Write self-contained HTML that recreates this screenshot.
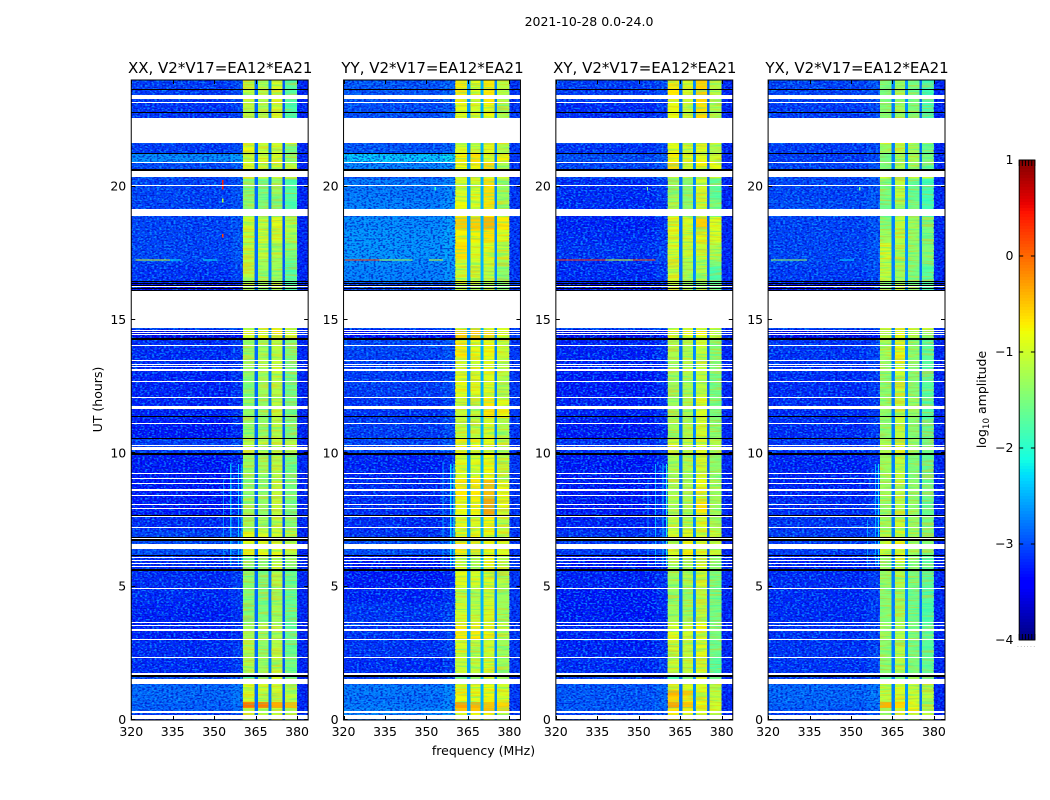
<!DOCTYPE html>
<html>
<head>
<meta charset="utf-8">
<title>2021-10-28 amplitude waterfall</title>
<style>
html,body{margin:0;padding:0;background:#fff;width:1050px;height:800px;overflow:hidden}
svg{display:block}
text{font-family:"DejaVu Sans","Liberation Sans",sans-serif;fill:#000}
</style>
</head>
<body>
<svg id="figure" xmlns="http://www.w3.org/2000/svg" width="1050" height="800" viewBox="0 0 1050 800">
  <defs>
    <filter id="speckle-light" x="0" y="0" width="100%" height="100%" color-interpolation-filters="sRGB"><feTurbulence type="fractalNoise" baseFrequency="0.42 0.62" numOctaves="1" seed="3"/><feColorMatrix values="0 0 0 0 .05 0 0 0 0 .62 0 0 0 0 1 5.5 0 0 0 -2.6"/></filter>
    <filter id="speckle-dark" x="0" y="0" width="100%" height="100%" color-interpolation-filters="sRGB"><feTurbulence type="fractalNoise" baseFrequency="0.42 0.62" numOctaves="1" seed="11"/><feColorMatrix values="0 0 0 0 0 0 0 0 0 0 0 0 0 0 .72 5.5 0 0 0 -2.6"/></filter>
    <filter id="streak-cool" x="0" y="0" width="100%" height="100%" color-interpolation-filters="sRGB"><feTurbulence type="fractalNoise" baseFrequency="0.035 0.55" numOctaves="2" seed="5"/><feColorMatrix values="0 0 0 0 .1 0 0 0 0 .95 0 0 0 0 .75 5 0 0 0 -2.4"/></filter>
    <filter id="streak-warm" x="0" y="0" width="100%" height="100%" color-interpolation-filters="sRGB"><feTurbulence type="fractalNoise" baseFrequency="0.035 0.55" numOctaves="2" seed="17"/><feColorMatrix values="0 0 0 0 1 0 0 0 0 .72 0 0 0 0 0 5 0 0 0 -2.4"/></filter>
  </defs>
  <text x="589" y="26" font-size="12.5" text-anchor="middle">2021-10-28 0.0-24.0</text>
  <text x="483.5" y="755" font-size="12.5" text-anchor="middle">frequency (MHz)</text>
  <text transform="translate(102,399.5) rotate(-90)" font-size="12.5" text-anchor="middle">UT (hours)</text>
  <g id="panels"></g>
  <g id="colorbar"></g>
  <text transform="translate(986,399.5) rotate(-90)" font-size="12.5" text-anchor="middle">log<tspan font-size="8.75" dy="3">10</tspan><tspan dy="-3"> amplitude</tspan></text>
  <text x="1017" y="647" font-size="6" letter-spacing="1.35" style="fill:#888">......</text>
</svg>
<script>
// ---------- Chart data (all in data units: hours, MHz, log10 amplitude) ----------
const panelTitles = ["XX, V2*V17=EA12*EA21", "YY, V2*V17=EA12*EA21", "XY, V2*V17=EA12*EA21", "YX, V2*V17=EA12*EA21"];
const freqTicks = [320, 335, 350, 365, 380];
const timeTicks = [0, 5, 10, 15, 20];
const colorbarTicks = [-4, -3, -2, -1, 0, 1];

// Time segment boundaries (UT hours)
const rowEdges = [0,.32,.45,.68,.92,1.1,1.33,1.52,1.71,2.4,3.0,3.65,4.4,5.0,5.6,6.15,6.73,7.1,7.67,8.3,9.0,9.95,10.55,11.3,12.1,13.0,13.6,14.3,14.65,16.05,16.4,17.0,17.2,17.27,17.9,18.4,18.87,19.5,20.3,20.55,20.9,21.23,21.6,22.55,23.2,24.0];

// Frequency bin boundaries (MHz) and what each bin reads from
const channelEdges = [320,340,356,360.4,364.6,365.9,369.6,370.7,374.7,375.6,380,384];
const channelSource = ["bg","bg","bg","b1","dip","b2","dip","b3","dip","b4","edge"];
const channelOffset = [0,-.02,.08,0,0,0,.1,0,-.1,0,0];

// Background level per time segment
const xxBackground = [-3.1,-2.9,-2.9,-2.85,-2.85,-2.85,-3,-3.0,-3.2,-3.2,-3.25,-3.25,-3.2,-3.2,-3.2,-3.0,-3.05,-3.2,-3.3,-3.3,-3.3,-3.1,-3.3,-3.25,-3.25,-3.2,-3.2,-3.55,-3,-3.4,-3.15,-3.1,-3.0,-3.05,-3.05,-3.05,-3.05,-3.05,-3,-3.0,-2.65,-3.1,-3,-3.15,-3.1];
const yyBackground = [-2.7,-2.7,-2.75,-2.8,-2.75,-2.75,-3,-3.1,-3.2,-3.15,-3.15,-3.15,-3.25,-3.3,-3.3,-3.0,-3.15,-3.2,-3.2,-3.2,-3.25,-3.05,-3.1,-3.15,-3.1,-3.1,-3.05,-3.4,-3,-3.1,-2.7,-2.65,-2.65,-2.6,-2.6,-2.65,-2.7,-2.75,-3,-2.7,-2.3,-2.95,-3,-3.0,-2.95];
const xyBackground = [-3.1,-2.95,-2.95,-2.95,-2.95,-2.95,-3,-3.1,-3.2,-3.25,-3.25,-3.3,-3.3,-3.25,-3.3,-3.1,-3.15,-3.25,-3.3,-3.3,-3.3,-3.15,-3.3,-3.25,-3.3,-3.25,-3.25,-3.55,-3,-3.4,-3.2,-3.2,-3.1,-3.15,-3.2,-3.25,-3.2,-3.2,-3,-3.05,-3.0,-3.15,-3,-3.2,-3.1];
const yxBackground = [-3.1,-2.95,-2.9,-2.85,-2.85,-2.85,-3,-3.1,-3.15,-3.15,-3.15,-3.2,-3.2,-3.2,-3.25,-3.1,-3.1,-3.15,-3.2,-3.25,-3.25,-3.15,-3.2,-3.2,-3.2,-3.15,-3.15,-3.55,-3,-3.4,-3.1,-3.05,-3.0,-3.05,-3.05,-3.05,-3.0,-3.05,-3,-3.05,-3.1,-3.1,-3,-3.1,-3.05];

// Sub-band levels per time segment
const xxBand1 = [-1.0,-1.0,-.05,-1.0,-1.0,-.9,-1,-1.9,-1.2,-1.2,-1.25,-1.45,-1.45,-1.4,-1.4,-.85,-.9,-1.3,-1.3,-1.35,-1.3,-1.1,-1.35,-1.35,-1.4,-1.35,-1.3,-.9,-1,-1.1,-1.15,-1.1,-1.1,-1.1,-1.1,-1.0,-1.35,-1.45,-1,-.95,-1.0,-.85,-1,-1.15,-1.05];
const xxBand2 = [-1.1,-1.1,-.1,-1.1,-1.1,-1.0,-1,-1.5,-1.3,-1.35,-1.3,-1.5,-1.5,-1.5,-1.4,-.85,-.9,-1.25,-1.35,-1.35,-1.3,-1.1,-1.35,-1.35,-1.3,-1.2,-1.25,-.85,-1,-1.3,-1.3,-1.25,-1.3,-1.1,-1.0,-1.1,-1.5,-1.55,-1,-1.0,-1.0,-1.05,-1,-1.2,-1.2];
const xxBand3 = [-1,-1,-.35,-1.1,-1,-1,-1,-1,-1.1,-1.15,-1.2,-1.25,-1.3,-1.2,-1.1,-.9,-.95,-1.1,-1.1,-1.1,-1.15,-1,-1.15,-1.1,-1.15,-1.05,-1.1,-.7,-1,-1.2,-1.3,-1.25,-1.3,-1.2,-1.0,-.9,-1.5,-1.35,-1,-.95,-.95,-1.0,-1,-1.0,-.95];
const xxBand4 = [-1.2,-1.2,-.45,-1.1,-1.15,-1.2,-1,-1.65,-1.55,-1.6,-1.7,-1.65,-1.65,-1.6,-1.4,-1.1,-1.15,-1.45,-1.5,-1.5,-1.55,-1.2,-1.55,-1.55,-1.6,-1.55,-1.5,-1.0,-1,-1.7,-1.75,-1.7,-1.6,-1.45,-1.2,-1.15,-1.8,-1.75,-1,-1.15,-1.4,-1.55,-1,-1.8,-1.75];

const yyBand1 = [-.9,-.5,-.3,-.8,-.7,-.9,-1,-1.7,-1.05,-.95,-.7,-1.0,-1.1,-.85,-1.0,-.7,-.85,-.9,-.8,-.7,-.9,-.75,-1.05,-1.05,-.85,-1.0,-.7,-.5,-1,-1.1,-1.05,-.95,-1,-.65,-.75,-.55,-.8,-.95,-1,-.8,-.75,-.95,-1,-.85,-.7];
const yyBand2 = [-.85,-.5,-.4,-.9,-.85,-.9,-1,-1.3,-1.1,-1.1,-.7,-1.1,-1.2,-.95,-1.1,-.7,-.85,-.95,-.75,-.7,-.9,-.8,-1.1,-1.1,-.9,-.95,-.85,-.5,-1,-1.2,-1.05,-1,-1,-.95,-.75,-.55,-.95,-.9,-1,-.75,-.65,-1.05,-1,-.95,-.85];
const yyBand3 = [-.8,-.45,-.5,-.75,-.8,-.8,-1,-.9,-.95,-1,-.75,-.95,-1,-.95,-.9,-.8,-.8,-.75,-.3,-.45,-.8,-.85,-.95,-.7,-.9,-.85,-.8,-.6,-1,-1.2,-1.1,-1,-1,-.9,-.65,-.4,-.7,-.65,-1,-.6,-.9,-.9,-1,-.8,-.7];
const yyBand4 = [-1.0,-.6,-.6,-.95,-.95,-1,-1,-1.2,-1.25,-1.3,-1.1,-1.3,-1.3,-1.15,-1.15,-.95,-1,-1.1,-.85,-.8,-1.1,-1.1,-1.2,-.85,-1.15,-1.1,-1.05,-.8,-1,-1.5,-1.4,-1.3,-1.3,-1.05,-.9,-.7,-1.2,-1.3,-1,-1.2,-.75,-1.2,-1,-1.25,-1.15];

const xyBand1 = [-.7,-.7,-.3,-.6,-.4,-.9,-1,-1.8,-1.05,-1.0,-.9,-1.3,-1.3,-1.3,-1.2,-.9,-1,-1.1,-1.2,-1.2,-1.2,-1,-1.25,-1.3,-1.3,-1.3,-1.2,-.9,-1,-1.1,-1.0,-1,-1.0,-1.0,-.95,-.9,-1.2,-1.35,-1,-.6,-.75,-.85,-1,-.85,-.7];
const xyBand2 = [-.85,-.75,-.5,-.7,-.5,-.95,-1,-1.5,-1.1,-1.1,-1.0,-1.3,-1.35,-1.2,-1.2,-.75,-.9,-1.2,-1.2,-1.25,-1.2,-1.1,-1.2,-1.25,-1.25,-1.15,-1.2,-.85,-1,-1.3,-1.25,-1.2,-1.2,-1.05,-1,-.95,-1.4,-1.45,-1,-1,-.9,-1,-1,-1.05,-.95];
const xyBand3 = [-.95,-.95,-.8,-.85,-.85,-.95,-1,-.95,-1.0,-.9,-.85,-1.1,-1.15,-1.0,-1.0,-.95,-1,-.95,-.7,-.85,-1,-.95,-1,-.95,-1.1,-1.05,-1.05,-.8,-1,-1.3,-1.2,-1.2,-1.2,-1.05,-.85,-.55,-1.05,-1.0,-1,-.8,-.85,-.9,-1,-.65,-.6];
const xyBand4 = [-1.1,-1.0,-1.0,-1.05,-1.1,-1.15,-1,-1.6,-1.7,-1.6,-1.5,-1.55,-1.55,-1.5,-1.4,-1.05,-1.05,-1.25,-1.3,-1.3,-1.4,-1.2,-1.4,-1.5,-1.55,-1.45,-1.45,-1.05,-1,-1.6,-1.8,-1.5,-1.4,-1.2,-.95,-.9,-1.5,-1.7,-1,-.85,-1,-1.2,-1,-1.2,-1.15];

const yxBand1 = [-1.3,-1.3,-.4,-1.1,-1.1,-1.15,-1,-1.8,-1.4,-1.4,-1.3,-1.45,-1.45,-1.35,-1.35,-1.05,-1.15,-1.3,-1.35,-1.3,-1.3,-1.2,-1.4,-1.35,-1.4,-1.35,-1.25,-1.1,-1,-1.45,-1.1,-1.15,-1.2,-1.0,-1.3,-1.45,-1.6,-1.5,-1,-1.5,-1.55,-1.35,-1,-1.45,-1.5];
const yxBand2 = [-1,-1,-.6,-.95,-.95,-.95,-1,-1.5,-1.15,-1.15,-1.15,-1.3,-1.3,-1.2,-1.0,-.85,-.95,-1.05,-1.15,-1.1,-1.1,-.95,-1.1,-1.1,-1.05,-.9,-.9,-.85,-1,-1.15,-1.3,-1.25,-1.2,-1.2,-1.15,-1.1,-1.25,-1.1,-1,-1.15,-1.3,-1.2,-1,-1.3,-1.25];
const yxBand3 = [-1.1,-.7,-.9,-1.0,-1.05,-1.1,-1,-1.3,-1.5,-1.55,-1.5,-1.6,-1.6,-1.5,-1.45,-1.3,-1.3,-1.35,-1.35,-1.4,-1.5,-1.35,-1.45,-1.35,-1.45,-1.45,-1.4,-1.2,-1,-1.5,-1.5,-1.5,-1.5,-1.4,-1.35,-1.3,-1.55,-1.65,-1,-1.35,-1.25,-1.3,-1,-1.5,-1.55];
const yxBand4 = [-1.1,-1.1,-1.2,-1.1,-1.15,-1.15,-1,-1.65,-1.65,-1.7,-1.65,-1.75,-1.75,-1.7,-1.7,-1.45,-1.5,-1.55,-1.6,-1.6,-1.65,-1.55,-1.65,-1.75,-1.7,-1.7,-1.7,-1.4,-1,-1.75,-1.7,-1.65,-1.6,-1.45,-1.5,-1.5,-1.85,-1.85,-1,-1.65,-1.5,-1.55,-1,-1.85,-1.85];

// Levels of the notches between sub-bands and of the band above 380 MHz
const dipLevels = [-2.85, -2.6, -2.8, -2.75];
const edgeLevels = [-3.2, -3.1, -3.2, -3.2];

// Flagged (no data) and dropout times, hours
const thinGapTimes = [2.35,3.03,3.375,3.54,3.66,4.94,5.75,5.86,5.99,6.10,6.81,7.23,7.62,7.92,8.09,8.43,8.88,9.05,9.25,10.30,11.13,12.10,12.70,13.10,13.16,13.24,13.34,13.47,14.05,14.44,14.52,14.59,16.26,20.05,20.91,23.16];
const wideGapStarts = [.04,.26,1.35,1.69,6.41,8.59,10.14,11.67,14.69,18.91,20.37,21.64,23.29];
const wideGapEnds   = [.19,.34,1.54,1.76,6.60,8.66,10.22,11.76,16.08,19.16,20.59,22.59,23.44];
const thinDropTimes = [1.65,6.16,6.86,7.68,11.39,16.10,16.19,16.31,16.38,16.44,21.25,22.79,23.65];
const wideDropStarts = [5.59,6.71,9.94,10.52,14.26,20.59];
const wideDropEnds   = [5.66,6.79,10.01,10.58,14.33,20.66];

// Interference features: panel, start MHz, end MHz, start h, end h, level
const rfiPanels = [0,0,0,0,0, 1,1,1, 2,2,2, 3,3, 0,0,0,0, 1,1,1, 2,2,2,2, 3,3,3, 0,1,2,3];
const rfiFreqStart = [321.5,334,346,352.9,352.9, 320.5,333,351, 320,338,348, 321,346, 353.2,355.8,358.6,359.8, 355.8,358.6,359.8, 353.2,355.8,358.6,359.8, 355.8,358.6,359.8, 352.9,352.9,352.9,352.9];
const rfiFreqEnd   = [334,338,351,353.4,353.4, 333,345,356, 338,348,356, 334,351, 353.6,356.2,359,360.2, 356.2,359,360.2, 353.6,356.2,359,360.2, 356.2,359,360.2, 353.4,353.4,353.4,353.4];
const rfiTimeStart = [17.23,17.23,17.23,19.9,18.1, 17.23,17.23,17.23, 17.23,17.23,17.23, 17.23,17.23, 5.8,5.8,5.8,5.8, 5.8,5.8,5.8, 5.8,5.8,5.8,5.8, 5.8,5.8,5.8, 19.4,19.85,19.85,19.85];
const rfiTimeEnd   = [17.27,17.27,17.27,20.25,18.22, 17.27,17.27,17.27, 17.27,17.27,17.27, 17.27,17.27, 9.0,9.6,9.6,9.6, 9.6,9.6,9.6, 9.0,9.6,9.6,9.6, 7.5,9.6,9.6, 19.55,19.98,19.98,19.98];
const rfiLevels    = [-1,-2.2,-2.2,.4,.2, .25,-1.2,-1, .3,-.9,.1, -1.3,-2.3, -2.7,-2.5,-2.4,-2.3, -2.6,-2.3,-2.1, -2.7,-2.5,-2.4,-2.2, -2.6,-2.5,-2.3, -1.2,-2.0,-1.4,-1.6];

// ---------- Axis functions ----------
const NS = "http://www.w3.org/2000/svg";
const panelLeft = [131.25, 343.55, 555.85, 768.1];
const panelWidth = 176.9;
const axisTop = 80, axisBottom = 720;
const freqMin = 320, freqMax = 384, timeMax = 24, ampMin = -4, ampMax = 1;
const thinHours = .0385;
function xScale(panel, f){ return panelLeft[panel] + (f - freqMin) / (freqMax - freqMin) * panelWidth; }
function yScale(h){ return axisBottom - h / timeMax * (axisBottom - axisTop); }
const cbLeft = 1019.2, cbWidth = 15.7, cbTop = 160, cbBottom = 640;
function cbScale(v){ return cbBottom - (v - ampMin) / (ampMax - ampMin) * (cbBottom - cbTop); }

function ramp(t, pts){
  for (let i = 1; i < pts.length; i++) {
    if (t <= pts[i][0]) {
      const a = pts[i-1], b = pts[i];
      return a[1] + (b[1] - a[1]) * (t - a[0]) / (b[0] - a[0]);
    }
  }
  return pts[pts.length-1][1];
}
function jet(v){
  const t = Math.max(0, Math.min(1, (v - ampMin) / (ampMax - ampMin)));
  const r = ramp(t, [[0,0],[.35,0],[.66,1],[.89,1],[1,.5]]);
  const g = ramp(t, [[0,0],[.125,0],[.375,1],[.64,1],[.91,0],[1,0]]);
  const b = ramp(t, [[0,.5],[.11,1],[.34,1],[.65,0],[1,0]]);
  return "rgb(" + Math.round(r*255) + "," + Math.round(g*255) + "," + Math.round(b*255) + ")";
}

function make(parent, tag, attrs){
  const el = document.createElementNS(NS, tag);
  for (const k in attrs) el.setAttribute(k, attrs[k]);
  parent.appendChild(el);
  return el;
}

const panelBackgrounds = [xxBackground, yyBackground, xyBackground, yxBackground];
const panelBand1 = [xxBand1, yyBand1, xyBand1, yxBand1];
const panelBand2 = [xxBand2, yyBand2, xyBand2, yxBand2];
const panelBand3 = [xxBand3, yyBand3, xyBand3, yxBand3];
const panelBand4 = [xxBand4, yyBand4, xyBand4, yxBand4];

function levelFor(p, c, r){
  const src = channelSource[c];
  if (src === "bg") return panelBackgrounds[p][r] + channelOffset[c];
  if (src === "b1") return panelBand1[p][r];
  if (src === "b2") return panelBand2[p][r];
  if (src === "b3") return panelBand3[p][r];
  if (src === "b4") return panelBand4[p][r];
  if (src === "dip") return dipLevels[p] + channelOffset[c];
  return edgeLevels[p];
}

const panelsRoot = document.getElementById("panels");
panelTitles.forEach(function(title, p){
  const g = make(panelsRoot, "g", {});
  
  

  // heatmap cells
  const cells = make(g, "g", {"shape-rendering":"crispEdges"});
  
  
  for (let r = 0; r < rowEdges.length - 1; r++) {
    for (let c = 0; c < channelEdges.length - 1; c++) {
      const x0 = xScale(p, channelEdges[c]), x1 = xScale(p, channelEdges[c+1]);
      const y0 = yScale(rowEdges[r+1]), y1 = yScale(rowEdges[r]);
      const cell = make(cells, "rect", {x:x0, y:y0, width:x1-x0, height:y1-y0, fill:jet(levelFor(p,c,r))});
      
      
    }
  }

  // fine texture, kept inside each frequency region
  const texture = make(g, "g", {});
  
  
  const plotHeight = axisBottom - axisTop;
  function textureLayer(filterId, f0, f1, alpha){
    const x0 = xScale(p, f0), x1 = xScale(p, f1);
    const layer = make(texture, "rect", {x:x0, y:axisTop, width:x1-x0, height:plotHeight, filter:"url(#"+filterId+")", opacity:alpha});
    
    
  }
  channelSource.forEach(function(src, c){
    const f0 = channelEdges[c], f1 = channelEdges[c+1];
    if (src.charAt(0) === "b" && src !== "bg") {
      textureLayer("streak-cool", f0, f1, .35);
      textureLayer("streak-warm", f0, f1, .4);
    }
  });
  textureLayer("speckle-light", freqMin, channelEdges[3], .75);
  textureLayer("speckle-dark", freqMin, channelEdges[3], .6);
  textureLayer("speckle-light", channelEdges[10], freqMax, .45);
  textureLayer("speckle-dark", channelEdges[10], freqMax, .7);

  // interference features
  rfiPanels.forEach(function(rp, i){
    if (rp !== p) return;
    const x0 = xScale(p, rfiFreqStart[i]), x1 = xScale(p, rfiFreqEnd[i]);
    const y0 = yScale(rfiTimeEnd[i]), y1 = yScale(rfiTimeStart[i]);
    const m = make(g, "rect", {x:x0, y:y0, width:x1-x0, height:y1-y0, fill:jet(rfiLevels[i]), "shape-rendering":"crispEdges"});
    
    
  });

  // dropouts and gaps, snapped to whole pixels so thin lines stay solid
  const xa = xScale(p, freqMin), xb = xScale(p, freqMax);
  function band(h0, h1, fill, name){
    const top = Math.round(yScale(h1));
    const bottom = Math.max(top + 1, Math.round(yScale(h0)));
    const b = make(g, "rect", {x:xa, y:top, width:xb-xa, height:bottom-top, fill:fill, "shape-rendering":"crispEdges"});
    
    
  }
  thinDropTimes.forEach(function(t){ band(t - thinHours/2, t + thinHours/2, "#000", "dropout-line"); });
  wideDropStarts.forEach(function(s, i){ band(s, wideDropEnds[i], "#000", "dropout-band"); });
  thinGapTimes.forEach(function(t){ band(t - thinHours/2, t + thinHours/2, "#fff", "flagged-line"); });
  wideGapStarts.forEach(function(s, i){ band(s, wideGapEnds[i], "#fff", "flagged-band"); });

  // frame
  const frame = make(g, "rect", {x:xa, y:axisTop, width:xb-xa, height:axisBottom-axisTop, fill:"none", stroke:"#000", "stroke-width":1});
  
  

  // ticks
  freqTicks.forEach(function(f){
    const x = Math.round(xScale(p, f)) + .5;
    const t1 = make(g, "line", {x1:x, x2:x, y1:axisBottom, y2:axisBottom-4, stroke:"#000", "stroke-width":1});
    
    
    const t2 = make(g, "line", {x1:x, x2:x, y1:axisTop, y2:axisTop+4, stroke:"#000", "stroke-width":1});
    
    
    const lab = make(g, "text", {x:xScale(p, f), y:736, "font-size":12.5, "text-anchor":"middle"});
    
    
    lab.textContent = String(f);
  });
  timeTicks.forEach(function(t){
    const y = Math.round(yScale(t)) - .5;
    const t1 = make(g, "line", {x1:xa, x2:xa+4, y1:y, y2:y, stroke:"#000", "stroke-width":1});
    
    
    const t2 = make(g, "line", {x1:xb, x2:xb-4, y1:y, y2:y, stroke:"#000", "stroke-width":1});
    
    
    const lab = make(g, "text", {x:xa-5, y:yScale(t)+4, "font-size":12.5, "text-anchor":"end"});
    
    
    lab.textContent = String(t);
  });

  const ttl = make(g, "text", {x:(xa+xb)/2+.5, y:73, "font-size":15, "text-anchor":"middle"});
  
  
  ttl.textContent = title;
});

// ---------- Colorbar ----------
const cbRoot = document.getElementById("colorbar");
const cbSteps = 160;
for (let i = 0; i < cbSteps; i++) {
  const v0 = ampMin + (ampMax - ampMin) * i / cbSteps;
  const v1 = ampMin + (ampMax - ampMin) * (i + 1) / cbSteps;
  const s = make(cbRoot, "rect", {x:cbLeft, y:cbScale(v1), width:cbWidth, height:cbScale(v0)-cbScale(v1), fill:jet((v0+v1)/2), "shape-rendering":"crispEdges"});
  
  
}
const cbFrame = make(cbRoot, "rect", {x:cbLeft, y:cbTop, width:cbWidth, height:cbBottom-cbTop, fill:"none", stroke:"#000", "stroke-width":1});


colorbarTicks.forEach(function(v){
  const y = cbScale(v);
  const a = make(cbRoot, "line", {x1:cbLeft, x2:cbLeft+4, y1:y, y2:y, stroke:"#000", "stroke-width":1});
  
  
  const b = make(cbRoot, "line", {x1:cbLeft+cbWidth, x2:cbLeft+cbWidth-4, y1:y, y2:y, stroke:"#000", "stroke-width":1});
  
  
  const lab = make(cbRoot, "text", {x:1013.5, y:y+4, "font-size":12.5, "text-anchor":"end"});
  
  
  lab.textContent = v < 0 ? "\u2212" + Math.abs(v) : String(v);
});
for (let i = 0; i <= 5; i++) {
  const x = cbLeft + cbWidth * i / 5;
  const a = make(cbRoot, "line", {x1:x, x2:x, y1:cbTop, y2:cbTop+6, stroke:"#000", "stroke-width":1});
  
  
  const b = make(cbRoot, "line", {x1:x, x2:x, y1:cbBottom, y2:cbBottom-6, stroke:"#000", "stroke-width":1});
  
  
}
</script>
</body>
</html>
